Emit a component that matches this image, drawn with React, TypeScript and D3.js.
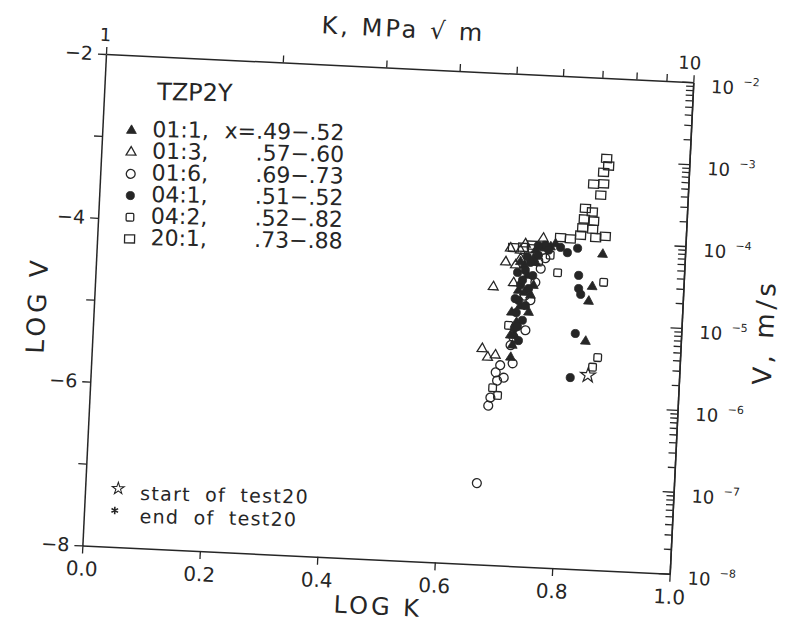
import React, { useEffect, useRef } from 'react';
import * as d3 from 'd3';

type P = [number, number];

// ---- axis ticks / labels ----
const logKTicks = [0, 0.2, 0.4, 0.6, 0.8, 1.0];
const logVMajor = [-2, -4, -6, -8];
const logVMinor = [-3, -5, -7];
const kTopTicks = [1, 2, 3, 4, 5, 6, 7, 8, 9, 10];
const kTopLabeled = [1, 10];
const vExponents = [-2, -3, -4, -5, -6, -7, -8];

// ---- legend ----
const legendTitle = 'TZP2Y';
const legendLabels = ['01:1,', '01:3,', '01:6,', '04:1,', '04:2,', '20:1,'];
const legendRanges = ['x=.49\u2212.52', '.57\u2212.60', '.69\u2212.73', '.51\u2212.52', '.52\u2212.82', '.73\u2212.88'];

// ---- data: [log K, log V] ----
const s01_1: P[] = [
  [0.860, -4.15], [0.845, -4.55], [0.840, -4.73], [0.838, -5.22],
  [0.771, -4.09], [0.747, -4.29], [0.734, -4.45], [0.730, -4.66], [0.724, -4.83], [0.719, -5.03], [0.712, -5.46],
  [0.779, -4.05], [0.759, -4.11], [0.743, -4.24], [0.728, -4.33], [0.741, -4.69], [0.739, -4.90], [0.717, -5.19], [0.714, -5.31],
  [0.721, -4.29], [0.745, -4.57], [0.720, -4.64], [0.710, -4.91], [0.710, -5.19], [0.746, -4.14],
];
const s01_3: P[] = [
  [0.677, -4.61], [0.711, -4.55], [0.713, -4.33], [0.673, -5.47], [0.686, -5.44], [0.758, -3.99],
  [0.703, -4.13], [0.696, -4.30], [0.720, -4.15], [0.663, -5.37], [0.721, -4.25], [0.728, -4.07],
];
const s01_6: P[] = [
  [0.665, -7.01], [0.678, -6.06], [0.681, -5.96], [0.702, -5.71], [0.688, -5.65], [0.716, -5.53],
  [0.715, -5.21], [0.735, -5.12], [0.711, -5.31], [0.695, -5.56], [0.691, -5.75], [0.748, -4.53],
  [0.756, -4.36], [0.741, -4.75], [0.763, -4.23], [0.731, -4.70],
];
const s04_1: P[] = [
  [0.821, -4.42], [0.822, -4.58], [0.826, -4.65], [0.820, -5.13], [0.815, -5.67], [0.817, -4.09],
  [0.800, -4.15], [0.762, -4.07], [0.730, -4.39], [0.723, -4.57], [0.721, -4.76],
  [0.788, -4.09], [0.768, -4.13], [0.751, -4.20], [0.738, -4.29], [0.743, -4.45], [0.726, -4.51],
  [0.737, -4.61], [0.733, -4.82], [0.718, -4.91], [0.729, -5.00], [0.716, -5.10], [0.724, -5.25],
  [0.732, -4.22], [0.717, -4.42], [0.715, -4.74], [0.721, -5.08], [0.750, -4.08],
];
const s04_2: P[] = [
  [0.864, -4.49], [0.860, -5.41], [0.852, -5.53], [0.706, -5.07], [0.693, -5.93], [0.684, -5.84],
  [0.785, -4.40], [0.752, -4.28], [0.771, -4.19], [0.739, -4.12],
];
const s20_1: P[] = [
  [0.859, -2.98], [0.863, -3.07], [0.855, -3.15], [0.839, -3.30], [0.856, -3.29], [0.852, -3.43],
  [0.827, -3.60], [0.839, -3.64], [0.826, -3.73], [0.842, -3.75], [0.824, -3.84], [0.841, -3.85],
  [0.821, -3.93], [0.847, -3.95], [0.863, -3.93], [0.787, -3.97], [0.804, -3.98], [0.708, -4.12],
  [0.725, -4.11], [0.740, -4.08],
];
const startTest20: P[] = [[0.845, -5.63]];

// ---- layout ----
const W = 588;
const H = 492;
const OX = 106;
const OY = 54;
const ANGLE = 2.75;
const INK = '#262626';
const FONT = "'DejaVu Sans', sans-serif";

const x = d3.scaleLinear().domain([0, 1]).range([0, W]);
const y = d3.scaleLinear().domain([-8, -2]).range([H, 0]);
const xTop = d3.scaleLog().domain([1, 10]).range([0, W]);
const yRight = d3.scaleLog().domain([1e-8, 1e-2]).range([H, 0]);

const triPath = d3.symbol().type(d3.symbolTriangle).size(42)()!;
const circFilled = d3.symbol().type(d3.symbolCircle).size(52)()!;
const circOpen = d3.symbol().type(d3.symbolCircle).size(62)()!;
const starPath = d3.symbol().type(d3.symbolStar).size(70)()!;
const astPath = d3.symbol().type(d3.symbolAsterisk).size(40)()!;

type Kind = 'triF' | 'triO' | 'circO' | 'circF' | 'sqS' | 'sqL' | 'star';

function Marker({ kind, cx, cy }: { kind: Kind; cx: number; cy: number }) {
  const t = `translate(${cx},${cy})`;
  const sw = 1.3;
  switch (kind) {
    case 'triF':
      return <path d={triPath} transform={t} fill={INK} stroke={INK} strokeWidth={0.8} />;
    case 'triO':
      return <path d={triPath} transform={t} fill="none" stroke={INK} strokeWidth={sw} />;
    case 'circO':
      return <path d={circOpen} transform={t} fill="none" stroke={INK} strokeWidth={sw} />;
    case 'circF':
      return <path d={circFilled} transform={t} fill={INK} stroke={INK} strokeWidth={0.8} />;
    case 'sqS':
      return <rect x={cx - 3.8} y={cy - 3.8} width={7.6} height={7.6} rx={1.2} fill="none" stroke={INK} strokeWidth={sw} />;
    case 'sqL':
      return <rect x={cx - 5} y={cy - 4} width={10} height={8} fill="none" stroke={INK} strokeWidth={sw} />;
    case 'star':
      return <path d={starPath} transform={t} fill="none" stroke={INK} strokeWidth={1.2} />;
  }
}

const seriesList: { data: P[]; kind: Kind }[] = [
  { data: s01_3, kind: 'triO' },
  { data: s01_6, kind: 'circO' },
  { data: s04_2, kind: 'sqS' },
  { data: s20_1, kind: 'sqL' },
  { data: s01_1, kind: 'triF' },
  { data: s04_1, kind: 'circF' },
  { data: startTest20, kind: 'star' },
];
const legendKinds: Kind[] = ['triF', 'triO', 'circO', 'circF', 'sqS', 'sqL'];

export default function App() {
  const leftRef = useRef<SVGGElement>(null);
  const bottomRef = useRef<SVGGElement>(null);
  const topRef = useRef<SVGGElement>(null);
  const rightMinorRef = useRef<SVGGElement>(null);
  const rightMajorRef = useRef<SVGGElement>(null);

  useEffect(() => {
    const style = (sel: any, fs: number) => {
      sel.attr('font-family', FONT).attr('font-size', fs);
      sel.select('.domain').attr('stroke', INK).attr('stroke-width', 1.5);
      sel.selectAll('.tick line').attr('stroke', INK).attr('stroke-width', 1.3);
      sel.selectAll('.tick text').attr('fill', INK);
    };
    const left = d3.select(leftRef.current!);
    left.call(
      d3.axisLeft(y)
        .tickValues([...logVMajor, ...logVMinor])
        .tickSize(8)
        .tickSizeOuter(0)
        .tickPadding(5)
        .tickFormat((d: any) => (logVMajor.includes(+d) ? '\u2212' + Math.abs(+d) : ''))
    );
    style(left, 19);

    const bottom = d3.select(bottomRef.current!);
    bottom.call(
      d3.axisBottom(x).tickValues(logKTicks).tickSize(8).tickSizeOuter(0).tickPadding(8)
        .tickFormat((d: any) => d3.format('.1f')(+d))
    );
    style(bottom, 20);

    const top = d3.select(topRef.current!);
    top.call(
      d3.axisTop(xTop).tickValues(kTopTicks).tickSize(7).tickSizeOuter(0).tickPadding(6)
        .tickFormat((d: any) => (kTopLabeled.includes(+d) ? String(d) : ''))
    );
    style(top, 18);
    top.selectAll('.tick text').attr('dx', (d: any) => (+d === 10 ? -5 : -2));

    const minorVals = yRight.ticks().filter((v) => Math.abs(Math.log10(v) - Math.round(Math.log10(v))) > 1e-6);
    const rmin = d3.select(rightMinorRef.current!);
    rmin.call(d3.axisRight(yRight).tickValues(minorVals).tickSize(-7).tickSizeOuter(0).tickFormat(() => ''));
    style(rmin, 12);
    const rmaj = d3.select(rightMajorRef.current!);
    rmaj.call(
      d3.axisRight(yRight).tickValues(vExponents.map((e) => Math.pow(10, e))).tickSize(-11).tickSizeOuter(0)
        .tickFormat(() => '')
    );
    style(rmaj, 12);
  }, []);

  return (
    <svg width={796} height={624} style={{ position: 'absolute', left: 0, top: 0, background: '#fff' }}>
      <rect width={796} height={624} fill="#fff" />
      <g transform={`translate(${OX},${OY}) rotate(${ANGLE})`}>
        <g ref={leftRef} />
        <g ref={bottomRef} transform={`translate(0,${H})`} />
        <g ref={topRef} />
        <g ref={rightMinorRef} transform={`translate(${W},0)`} />
        <g ref={rightMajorRef} transform={`translate(${W},0)`} />

        {vExponents.map((e) => {
          const yy = yRight(Math.pow(10, e));
          return (
            <g key={e} fontFamily={FONT} fill={INK}>
              <text x={W + 18} y={yy + 10} fontSize={18}>10</text>
              <text x={W + 50} y={yy + 1} fontSize={11}>{'\u2212' + Math.abs(e)}</text>
            </g>
          );
        })}

        <text
          transform={`translate(-48,${H / 2 + 8}) rotate(-90)`}
          textAnchor="middle"
          fontFamily={FONT}
          fontSize={25}
          fill={INK}
          letterSpacing={4}
        >
          LOG V
        </text>
        <text x={W / 2 + 4} y={H + 55} textAnchor="middle" fontFamily={FONT} fontSize={24} fill={INK} letterSpacing={3}>
          LOG K
        </text>
        <text x={W / 2 + 2} y={-31} textAnchor="middle" fontFamily={FONT} fontSize={24} fill={INK} letterSpacing={3}>
          {'K,  MPa \u221A m'}
        </text>
        <text
          transform={`translate(${W + 92},${H / 2}) rotate(-90)`}
          textAnchor="middle"
          fontFamily={FONT}
          fontSize={26}
          fill={INK}
          letterSpacing={4}
        >
          {'V,  m/s'}
        </text>

        {seriesList.map((s, i) =>
          s.data.map((p, j) => <Marker key={`${i}-${j}`} kind={s.kind} cx={x(p[0])} cy={y(p[1])} />)
        )}
      </g>

      <g transform="translate(157,100) rotate(1)" fontFamily={FONT} fill={INK}>
        <text x={0} y={0} fontSize={24}>{legendTitle}</text>
        {legendLabels.map((lab, i) => {
          const by = 37 + i * 21.67;
          return (
            <g key={lab}>
              <Marker kind={legendKinds[i]} cx={-25} cy={by - 6} />
              <text x={-4} y={by} fontSize={22}>{lab}</text>
              <text x={188} y={by} fontSize={22} textAnchor="end">{legendRanges[i]}</text>
            </g>
          );
        })}
      </g>

      <g transform="translate(140,500) rotate(1.2)" fontFamily={FONT} fill={INK}>
        <path d={starPath} transform="translate(-22,-11) scale(0.8)" fill="none" stroke={INK} strokeWidth={1.3} />
        <text x={0} y={0} fontSize={19} letterSpacing={1.3} wordSpacing={7}>start of test20</text>
        <path d={astPath} transform="translate(-25,11)" fill="none" stroke={INK} strokeWidth={1.6} />
        <text x={0} y={23} fontSize={19} letterSpacing={1.3} wordSpacing={7}>end of test20</text>
      </g>
    </svg>
  );
}
